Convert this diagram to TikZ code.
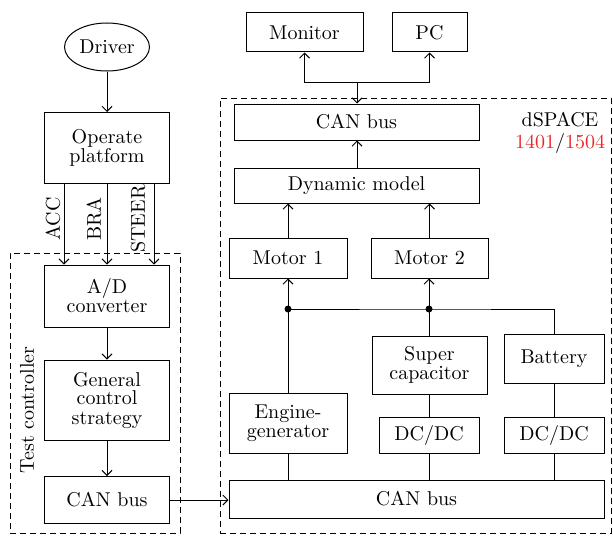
\documentclass[tikz,border=0pt]{standalone}
\usepackage{xcolor}
\usepackage{tikz}
\usetikzlibrary{shapes.geometric, arrows.meta, positioning}
\definecolor{dsred}{RGB}{232,40,40}

\begin{document}
\begin{tikzpicture}[x=0.5pt, y=-0.5pt, line width=0.5pt,
  box/.style={draw, align=center, inner sep=1pt, font=\fontsize{10pt}{9.5pt}\selectfont},
  arr/.style={-{Straight Barb[length=2.5pt, width=5pt]}},
  frame/.style={draw, dash pattern=on 3pt off 2pt}]
\useasboundingbox (0,0) rectangle (613,535);
% Frames
\node[frame, minimum width=85pt, minimum height=140pt] (tc) at (95,393) {};
\node[frame, minimum width=195.5pt, minimum height=217.5pt] (ds) at (415.75,315.75) {};
\node[rotate=90] (tclab) at (27,410) {Test controller};
\node[align=center] (dslab) at (560,133) {dSPACE\\[-1pt]\textcolor{dsred}{1401}/\textcolor{dsred}{1504}};
% Test controller side
\node[draw, ellipse, minimum width=42.5pt, minimum height=24pt, inner sep=0pt] (drv) at (107,47) {Driver};
\node[box, minimum width=62.5pt, minimum height=35.5pt] (op) at (107,148) {Operate\\platform};
\node[box, minimum width=62.5pt, minimum height=31pt] (ad) at (107,296) {A/D\\converter};
\node[box, minimum width=62.5pt, minimum height=40pt] (gcs) at (107,400) {General\\control\\strategy};
\node[box, minimum width=62.5pt, minimum height=23.5pt] (canL) at (107,500) {CAN bus};
\node[rotate=90] (acc) at (53,219) {ACC};
\node[rotate=90] (bra) at (94,219) {BRA};
\node[rotate=90] (steer) at (138,219) {STEER};
% dSPACE side
\node[box, minimum width=58.5pt, minimum height=19.5pt] (mon) at (304.5,32.5) {Monitor};
\node[box, minimum width=37.5pt, minimum height=19.5pt] (pc) at (429.5,32.5) {PC};
\node[box, minimum width=122.5pt, minimum height=18pt] (canT) at (356.5,122) {CAN bus};
\node[box, minimum width=122.5pt, minimum height=17.5pt] (dyn) at (356.5,185.5) {Dynamic model};
\node[box, minimum width=59pt, minimum height=20pt] (mot1) at (288,258) {Motor 1};
\node[box, minimum width=58.5pt, minimum height=20pt] (mot2) at (429.5,258) {Motor 2};
\node[box, minimum width=57.5pt, minimum height=29pt] (sc) at (429.5,365) {Super\\capacitor};
\node[box, minimum width=50pt, minimum height=24.5pt] (bat) at (554,358.5) {Battery};
\node[box, minimum width=59pt, minimum height=30pt] (eng) at (288,423) {Engine-\\generator};
\node[box, minimum width=50pt, minimum height=18pt] (dc1) at (429,435) {DC/DC};
\node[box, minimum width=50pt, minimum height=18pt] (dc2) at (554,435) {DC/DC};
\node[box, minimum width=187.5pt, minimum height=19pt] (canB) at (416.5,499) {CAN bus};
\coordinate (split) at (357,82);
\coordinate (j1) at (288,309);
\coordinate (j2) at (429,309);
% Connections
\draw[arr] (drv) -- (op);
\draw[arr] ([xshift=-21.5pt]op.south) -- ([xshift=-21.5pt]ad.north);
\draw[arr] (op.south) -- (ad.north);
\draw[arr] ([xshift=23.5pt]op.south) -- ([xshift=23.5pt]ad.north);
\draw[arr] (ad) -- (gcs);
\draw[arr] (gcs) -- (canL);
\draw[arr] (canL.east) -- (canL.east -| canB.west);
\draw[arr] (split) -- (split |- canT.north);
\draw[arr] (split) -| (mon.south);
\draw[arr] (split) -| (pc.south);
\draw[arr] (split |- dyn.north) -- (split |- canT.south);
\draw[arr] (mot1.north) -- (mot1.north |- dyn.south);
\draw[arr] (mot2.north) -- (mot2.north |- dyn.south);
\draw[arr] (j1) -- (j1 |- mot1.south);
\draw[arr] (j2) -- (j2 |- mot2.south);
\draw (j1 |- eng.north) -- (j1) -- (j2) -| (bat.north);
\draw (j2) -- (j2 |- sc.north);
\draw (sc.south -| dc1.north) -- (dc1.north);
\draw (bat.south) -- (bat.south |- dc2.north);
\draw (eng.south) -- (eng.south |- canB.north);
\draw (dc1.south) -- (dc1.south |- canB.north);
\draw (dc2.south) -- (dc2.south |- canB.north);
\fill (j1) circle (1.75pt);
\fill (j2) circle (1.75pt);
\end{tikzpicture}
\end{document}
